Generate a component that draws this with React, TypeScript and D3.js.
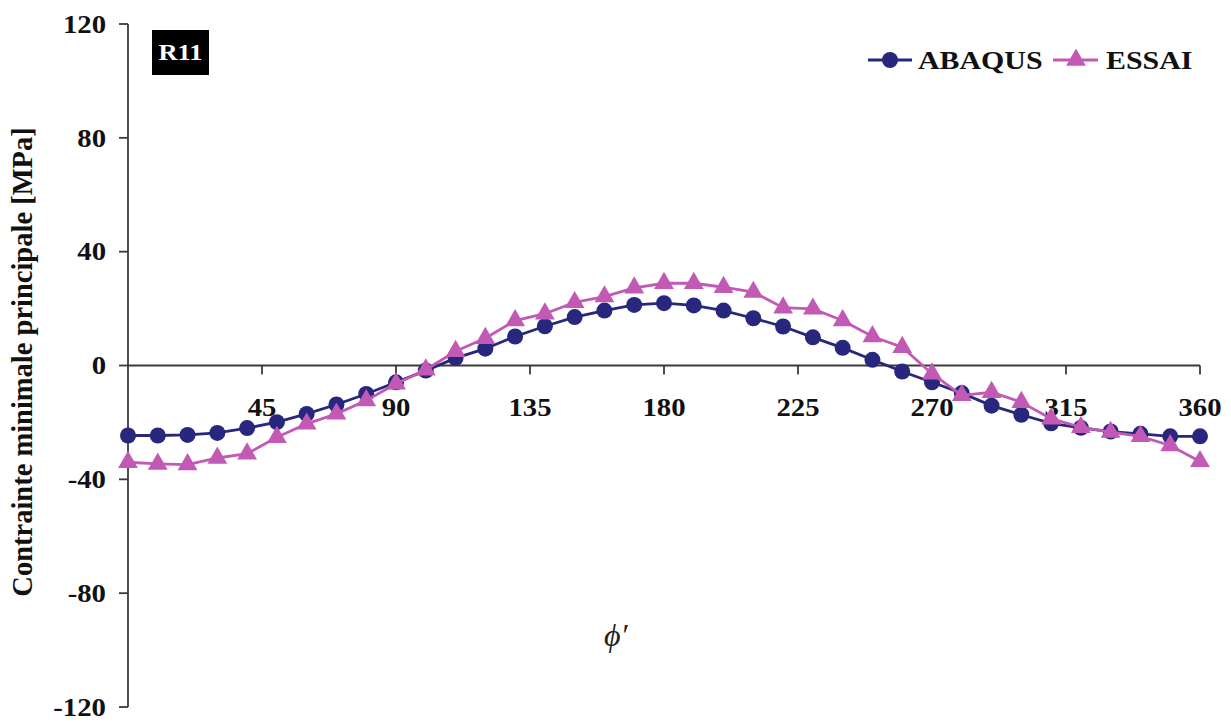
import React from "react";
import * as d3 from "d3";

const angles = [0,10,20,30,40,50,60,70,80,90,100,110,120,130,140,150,160,170,180,190,200,210,220,230,240,250,260,270,280,290,300,310,320,330,340,350,360];
const abaqus = [-24.6,-24.6,-24.4,-23.7,-22,-19.9,-17,-13.7,-10,-5.9,-1.8,2.6,5.9,10.2,13.8,17,19.3,21.3,21.9,21.1,19.3,16.6,13.7,9.9,6.2,2.0,-2.1,-5.9,-9.7,-14.1,-17.3,-20.3,-21.9,-23.2,-24,-24.9,-24.9];
const essai = [-34,-34.6,-34.8,-32.5,-31,-25.2,-20.5,-17,-12.3,-6.4,-1.5,5.0,9.6,15.8,18.2,22.2,24.2,27.3,28.9,28.9,27.5,25.8,20.3,19.9,15.8,10.2,6.4,-2.9,-10.5,-9.4,-12.9,-18.7,-21.7,-23.4,-24.9,-28.1,-33.7];
const xTicks = [45,90,135,180,225,270,315,360];
const yTicks = [-120,-80,-40,0,40,80,120];
const seriesNames = ["ABAQUS","ESSAI"];
const yTitle = "Contrainte minimale principale [MPa]";
const xTitle = "ϕ′";
const panelLabel = "R11";

const NAVY = "#27277d";
const MAG = "#c25ab5";
const AXIS = "#3a3a3a";
const FONT = "'Liberation Serif', 'Times New Roman', serif";
const SX = 1.15;

export default function App() {
  const W = 1231, H = 722;
  const x = d3.scaleLinear().domain([0, 360]).range([128, 1200]);
  const y = d3.scaleLinear().domain([-120, 120]).range([707, 24]);
  const line = d3.line<number>().x((_, i) => x(angles[i])).y((d) => y(d));
  const tri = d3.symbol().type(d3.symbolTriangle).size(170)() as string;

  const T = (props: { x: number; y: number; anchor?: string; size: number; fill?: string; children: React.ReactNode; dy?: string }) => (
    <text
      transform={`translate(${props.x},${props.y}) scale(${SX},1)`}
      textAnchor={props.anchor || "start"}
      dy={props.dy}
      fontSize={props.size}
      fontWeight="bold"
      fill={props.fill || "#111"}
    >
      {props.children}
    </text>
  );

  return (
    <svg width={W} height={H} style={{ position: "absolute", left: 0, top: 0, background: "#fff" }} fontFamily={FONT}>
      <rect x={0} y={0} width={W} height={H} fill="#fff" />
      {/* Y axis */}
      <line x1={x(0)} x2={x(0)} y1={y(120)} y2={y(-120)} stroke={AXIS} strokeWidth={1.8} />
      {yTicks.map((t) => (
        <g key={"y" + t}>
          <line x1={x(0) - 9} x2={x(0)} y1={y(t)} y2={y(t)} stroke={AXIS} strokeWidth={1.8} />
          <T x={106} y={y(t)} dy="0.35em" anchor="end" size={25}>{t}</T>
        </g>
      ))}
      {/* X axis */}
      <line x1={x(0)} x2={x(360)} y1={y(0)} y2={y(0)} stroke={AXIS} strokeWidth={1.8} />
      {xTicks.map((t) => (
        <g key={"x" + t}>
          <line x1={x(t)} x2={x(t)} y1={y(0)} y2={y(0) + 9} stroke={AXIS} strokeWidth={1.8} />
          <T x={x(t)} y={416} anchor="middle" size={25}>{t}</T>
        </g>
      ))}
      {/* Titles */}
      <text transform={`translate(32, 362) rotate(-90)`} textAnchor="middle" fontSize={28.5} fontWeight="bold" fill="#111">{yTitle}</text>
      <text x={604} y={646} fontSize={32} fontStyle="italic" fill="#222">{xTitle}</text>
      {/* Panel label */}
      <rect x={152} y={30} width={57} height={45} fill="#000" />
      <T x={180.5} y={52} dy="0.35em" anchor="middle" size={23} fill="#fff">{panelLabel}</T>
      {/* ABAQUS */}
      <path d={line(abaqus) || ""} fill="none" stroke={NAVY} strokeWidth={2.8} />
      {abaqus.map((v, i) => (
        <circle key={"a" + i} cx={x(angles[i])} cy={y(v)} r={8} fill={NAVY} />
      ))}
      {/* ESSAI */}
      <path d={line(essai) || ""} fill="none" stroke={MAG} strokeWidth={2.8} />
      {essai.map((v, i) => (
        <path key={"e" + i} d={tri} transform={`translate(${x(angles[i])},${y(v)})`} fill={MAG} />
      ))}
      {/* Legend */}
      <line x1={868} x2={912} y1={60} y2={60} stroke={NAVY} strokeWidth={2.8} />
      <circle cx={890} cy={60} r={8} fill={NAVY} />
      <T x={918} y={60} dy="0.35em" size={26}>{seriesNames[0]}</T>
      <line x1={1053} x2={1098} y1={60} y2={60} stroke={MAG} strokeWidth={2.8} />
      <path d={tri} transform="translate(1076,60)" fill={MAG} />
      <T x={1106} y={60} dy="0.35em" size={26}>{seriesNames[1]}</T>
    </svg>
  );
}
